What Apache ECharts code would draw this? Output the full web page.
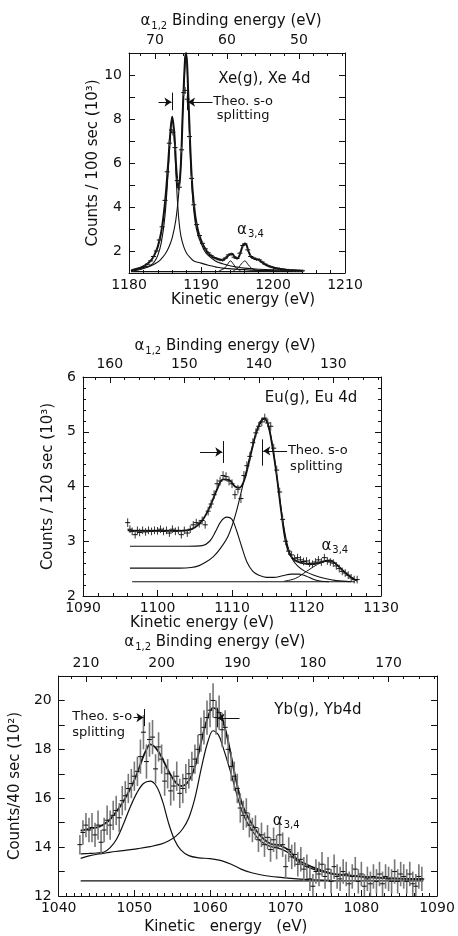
<!DOCTYPE html>
<html><head><meta charset="utf-8">
<script src="https://cdn.jsdelivr.net/npm/echarts@6/dist/echarts.min.js"></script>
<style>html,body{margin:0;padding:0;background:#fff}#c{width:458px;height:936px}</style>
</head><body><div id="c"></div>
<script>
// ---------------- DATA ----------------
const PHOTON = 1253.6; // binding = PHOTON - kinetic

// Xe 4d panel
const xeData = [[1180.6,1.12,0.05],[1181.0,1.15,0.05],[1181.4,1.2,0.05],[1181.8,1.25,0.05],[1182.2,1.3,0.06],[1182.6,1.4,0.06],[1183.0,1.55,0.06],[1183.4,1.75,0.07],[1183.8,2.0,0.07],[1184.2,2.5,0.08],[1184.6,3.1,0.09],[1185.0,4.3,0.1],[1185.3,5.6,0.12],[1185.6,6.9,0.14],[1185.9,7.5,0.15],[1186.1,7.4,0.15],[1186.4,6.7,0.14],[1186.7,5.2,0.12],[1187.0,4.9,0.12],[1187.3,6.6,0.14],[1187.6,9.2,0.16],[1187.8,9.3,0.16],[1188.1,8.9,0.16],[1188.4,7.2,0.14],[1188.7,5.3,0.12],[1189.0,4.1,0.1],[1189.4,3.2,0.09],[1189.8,2.7,0.08],[1190.2,2.35,0.08],[1190.6,2.1,0.07],[1191.0,1.92,0.07],[1191.4,1.8,0.07],[1191.8,1.7,0.07],[1192.2,1.65,0.07],[1192.6,1.6,0.07],[1193.0,1.58,0.07],[1193.4,1.68,0.07],[1193.8,1.82,0.07],[1194.2,1.85,0.07],[1194.6,1.72,0.07],[1195.0,1.66,0.07],[1195.4,1.9,0.07],[1195.8,2.25,0.08],[1196.1,2.32,0.08],[1196.5,2.05,0.07],[1196.9,1.75,0.07],[1197.3,1.68,0.07],[1197.7,1.62,0.07],[1198.1,1.6,0.07],[1198.5,1.5,0.06],[1198.9,1.4,0.06],[1199.3,1.33,0.06],[1199.7,1.28,0.06],[1200.1,1.25,0.05],[1200.5,1.22,0.05],[1200.9,1.2,0.05],[1201.3,1.18,0.05],[1201.7,1.15,0.05],[1202.1,1.14,0.05],[1202.5,1.13,0.05],[1202.9,1.12,0.05],[1203.3,1.11,0.05],[1203.7,1.11,0.05],[1204.1,1.1,0.05]];
const xeFit = [[1180.3,1.12],[1181,1.18],[1182,1.3],[1183,1.55],[1183.5,1.8],[1184,2.2],[1184.5,2.9],[1185,4.2],[1185.4,5.8],[1185.7,7.2],[1186.0,8.1],[1186.3,7.3],[1186.6,5.6],[1186.9,4.8],[1187.2,5.9],[1187.5,8.6],[1187.8,10.8],[1187.95,11.0],[1188.2,9.4],[1188.5,6.8],[1188.8,4.9],[1189.2,3.6],[1189.6,2.9],[1190,2.5],[1190.5,2.15],[1191,1.9],[1191.5,1.75],[1192,1.68],[1192.5,1.62],[1193,1.6],[1193.5,1.7],[1194,1.85],[1194.3,1.88],[1194.7,1.72],[1195.1,1.68],[1195.5,1.95],[1195.9,2.3],[1196.2,2.32],[1196.6,1.98],[1197.0,1.72],[1197.5,1.65],[1198,1.6],[1198.5,1.48],[1199,1.38],[1199.5,1.3],[1200,1.25],[1201,1.18],[1202,1.14],[1203,1.12],[1204.2,1.1]];
const xeCompA = [[1180.3,1.08],[1181,1.12],[1182,1.2],[1183,1.35],[1183.5,1.5],[1184,1.8],[1184.5,2.4],[1185,3.6],[1185.4,5.4],[1185.7,7.0],[1186.0,8.1],[1186.3,7.0],[1186.6,5.0],[1186.9,3.5],[1187.2,2.7],[1187.6,2.2],[1188,1.9],[1188.5,1.7],[1189,1.55],[1190,1.45],[1191,1.35],[1192,1.28],[1193,1.22],[1195,1.17],[1198,1.12],[1204.2,1.08]];
const xeCompB = [[1180.3,1.1],[1181,1.15],[1182,1.22],[1183,1.32],[1184,1.5],[1184.5,1.65],[1185,1.85],[1185.5,2.15],[1186,2.6],[1186.5,3.4],[1186.9,4.6],[1187.2,6.0],[1187.5,8.6],[1187.8,10.6],[1187.95,11.0],[1188.2,9.2],[1188.5,6.5],[1188.8,4.6],[1189.2,3.3],[1189.6,2.7],[1190,2.35],[1190.5,2.0],[1191,1.8],[1192,1.55],[1193,1.42],[1194,1.33],[1195,1.27],[1196,1.22],[1198,1.17],[1200,1.14],[1204.2,1.1]];
const xeSat1 = [[1192.5,1.1],[1193.2,1.2],[1193.7,1.4],[1194.1,1.55],[1194.5,1.4],[1195,1.2],[1195.5,1.1]];
const xeSat2 = [[1194.5,1.1],[1195.2,1.25],[1195.7,1.45],[1196.1,1.55],[1196.5,1.4],[1197,1.22],[1197.7,1.12],[1198.5,1.08]];
const xeBase = [[1180.3,1.06],[1204.2,1.06]];

// Eu 4d panel
const euData = [[1096.0,3.34,0.08],[1096.3,3.22,0.07],[1096.6,3.18,0.07],[1097.0,3.12,0.07],[1097.3,3.2,0.07],[1097.6,3.16,0.07],[1098.0,3.2,0.07],[1098.4,3.17,0.07],[1098.8,3.2,0.07],[1099.2,3.18,0.07],[1099.6,3.2,0.07],[1100.0,3.19,0.07],[1100.4,3.22,0.07],[1100.8,3.18,0.07],[1101.2,3.2,0.07],[1101.6,3.15,0.07],[1102.0,3.22,0.07],[1102.4,3.18,0.07],[1102.8,3.2,0.07],[1103.2,3.12,0.07],[1103.6,3.2,0.07],[1104.0,3.15,0.07],[1104.4,3.22,0.07],[1104.8,3.3,0.07],[1105.2,3.34,0.07],[1105.6,3.32,0.07],[1106.0,3.38,0.07],[1106.4,3.3,0.07],[1106.8,3.55,0.08],[1107.2,3.68,0.08],[1107.6,3.85,0.08],[1108.0,4.05,0.08],[1108.4,4.1,0.08],[1108.8,4.2,0.08],[1109.2,4.18,0.08],[1109.6,4.1,0.08],[1110.0,4.05,0.08],[1110.4,3.85,0.08],[1110.8,3.95,0.08],[1111.2,3.78,0.08],[1111.6,4.2,0.08],[1112.0,4.38,0.08],[1112.4,4.55,0.08],[1112.8,4.8,0.08],[1113.2,4.98,0.08],[1113.6,5.1,0.08],[1114.0,5.18,0.08],[1114.4,5.25,0.08],[1114.8,5.16,0.08],[1115.2,5.1,0.08],[1115.6,4.7,0.08],[1116.0,4.3,0.08],[1116.4,3.9,0.08],[1116.8,3.4,0.08],[1117.2,3.0,0.07],[1117.6,2.82,0.07],[1118.0,2.75,0.07],[1118.4,2.68,0.07],[1118.8,2.7,0.07],[1119.2,2.66,0.07],[1119.6,2.63,0.07],[1120.0,2.64,0.07],[1120.4,2.6,0.07],[1120.8,2.58,0.07],[1121.2,2.62,0.07],[1121.6,2.66,0.07],[1122.0,2.62,0.07],[1122.4,2.7,0.07],[1122.8,2.64,0.07],[1123.2,2.62,0.07],[1123.6,2.6,0.07],[1124.0,2.55,0.07],[1124.4,2.5,0.07],[1124.8,2.45,0.07],[1125.2,2.42,0.07],[1125.6,2.38,0.07],[1126.0,2.33,0.07],[1126.4,2.3,0.07],[1126.8,2.3,0.07]];
const euFit = [[1096.0,3.2],[1098,3.19],[1100,3.19],[1102,3.19],[1104,3.2],[1105,3.25],[1106,3.38],[1107,3.62],[1108,3.95],[1108.8,4.13],[1109.6,4.12],[1110.4,4.0],[1111.0,3.98],[1111.6,4.1],[1112.2,4.4],[1112.8,4.75],[1113.4,5.05],[1114.0,5.22],[1114.4,5.24],[1114.9,5.1],[1115.4,4.75],[1116.0,4.2],[1116.6,3.55],[1117.2,3.0],[1117.8,2.75],[1118.5,2.65],[1119.5,2.6],[1120.5,2.58],[1121.5,2.6],[1122.5,2.64],[1123.2,2.65],[1124,2.58],[1125,2.45],[1126,2.34],[1126.8,2.28]];
const euComp1 = [[1096.3,2.91],[1100,2.91],[1104,2.91],[1106,2.92],[1107,3.0],[1107.8,3.18],[1108.5,3.36],[1109.3,3.44],[1110.0,3.4],[1110.6,3.2],[1111.3,2.9],[1112.0,2.62],[1112.8,2.45],[1113.6,2.38],[1114.6,2.34],[1115.6,2.34],[1116.8,2.37],[1118,2.4],[1119,2.4],[1120,2.36],[1121,2.3],[1122,2.27],[1123,2.26]];
const euComp2 = [[1096.3,2.51],[1100,2.51],[1103,2.51],[1104.5,2.52],[1105.5,2.55],[1106.5,2.62],[1107.5,2.72],[1108.5,2.88],[1109.5,3.1],[1110.5,3.5],[1111.5,4.05],[1112.5,4.6],[1113.3,5.0],[1114.0,5.2],[1114.4,5.23],[1115.0,5.05],[1115.6,4.6],[1116.2,4.0],[1116.8,3.4],[1117.4,2.95],[1118,2.7],[1118.8,2.55],[1119.8,2.45],[1121,2.38],[1122.5,2.32],[1124,2.28],[1126,2.26]];
const euSat = [[1117.0,2.27],[1118.5,2.32],[1120,2.45],[1121.5,2.58],[1122.5,2.63],[1123.2,2.64],[1124,2.58],[1125,2.45],[1126,2.33],[1126.8,2.28]];
const euBase = [[1096.6,2.26],[1126.5,2.26]];

// Yb 4d panel
const ybData = [[1042.8,14.1,0.4],[1043.2,14.6,0.5],[1043.6,14.9,0.5],[1044.0,14.7,0.5],[1044.4,14.8,0.6],[1044.8,14.5,0.5],[1045.2,14.9,0.6],[1045.6,14.2,0.5],[1046.0,14.7,0.5],[1046.4,15.1,0.6],[1046.8,14.9,0.6],[1047.2,15.3,0.6],[1047.6,15.5,0.6],[1048.0,15.2,0.6],[1048.4,15.9,0.6],[1048.8,16.1,0.6],[1049.2,16.4,0.6],[1049.6,16.6,0.6],[1050.0,16.9,0.6],[1050.4,17.1,0.6],[1050.8,17.7,0.7],[1051.2,18.7,0.7],[1051.6,17.5,0.7],[1052.0,18.4,0.7],[1052.4,18.5,0.7],[1052.8,17.2,0.6],[1053.2,18.1,0.6],[1053.6,17.6,0.6],[1054.0,16.7,0.6],[1054.4,17.0,0.6],[1054.8,16.3,0.6],[1055.2,16.5,0.6],[1055.6,16.9,0.6],[1056.0,16.2,0.6],[1056.4,16.4,0.6],[1056.8,16.8,0.6],[1057.2,17.0,0.6],[1057.6,17.3,0.6],[1058.0,17.6,0.6],[1058.4,18.0,0.6],[1058.8,18.6,0.7],[1059.2,18.9,0.7],[1059.6,19.3,0.7],[1060.0,19.6,0.7],[1060.4,20.0,0.7],[1060.8,19.3,0.7],[1061.2,19.5,0.7],[1061.6,18.8,0.7],[1062.0,18.9,0.7],[1062.4,18.0,0.6],[1062.8,17.3,0.6],[1063.2,16.9,0.6],[1063.6,16.4,0.6],[1064.0,15.6,0.6],[1064.4,15.3,0.6],[1064.8,15.4,0.6],[1065.2,14.9,0.5],[1065.6,14.7,0.5],[1066.0,14.8,0.5],[1066.4,14.3,0.5],[1066.8,14.5,0.5],[1067.2,14.1,0.5],[1067.6,14.4,0.5],[1068.0,13.9,0.5],[1068.4,14.3,0.5],[1068.8,14.0,0.5],[1069.2,14.5,0.5],[1069.6,14.1,0.5],[1070.0,13.2,0.5],[1070.4,13.9,0.5],[1070.8,13.6,0.5],[1071.2,13.7,0.5],[1071.6,13.3,0.5],[1072.0,13.5,0.5],[1072.4,13.1,0.5],[1072.8,13.2,0.5],[1073.2,12.7,0.5],[1073.6,12.4,0.5],[1074.0,13.0,0.5],[1074.4,12.9,0.5],[1074.8,13.3,0.5],[1075.2,12.8,0.5],[1075.6,13.1,0.5],[1076.0,12.6,0.5],[1076.4,13.2,0.5],[1076.8,12.8,0.5],[1077.2,12.7,0.5],[1077.6,13.0,0.5],[1078.0,12.9,0.5],[1078.4,12.5,0.5],[1078.8,12.8,0.5],[1079.2,13.1,0.5],[1079.6,12.6,0.5],[1080.0,12.9,0.5],[1080.4,12.4,0.5],[1080.8,12.7,0.5],[1081.2,12.5,0.5],[1081.6,12.8,0.5],[1082.0,12.6,0.5],[1082.4,12.9,0.5],[1082.8,12.5,0.5],[1083.2,12.8,0.5],[1083.6,12.7,0.5],[1084.0,12.6,0.5],[1084.4,13.0,0.5],[1084.8,12.6,0.5],[1085.2,12.9,0.5],[1085.6,12.8,0.5],[1086.0,12.6,0.5],[1086.4,12.9,0.5],[1086.8,12.5,0.5],[1087.2,12.4,0.5],[1087.6,12.8,0.5],[1088.0,12.7,0.5]];
const ybFit = [[1042.9,14.67],[1044,14.75],[1045.3,14.83],[1046.5,15.05],[1047.5,15.4],[1048.6,15.9],[1049.7,16.54],[1050.4,17.05],[1051.0,17.56],[1051.6,18.0],[1052.1,18.2],[1052.7,18.1],[1053.4,17.8],[1054.2,17.3],[1054.9,16.9],[1055.6,16.6],[1056.2,16.5],[1056.9,16.6],[1057.6,16.95],[1058.3,17.6],[1058.9,18.4],[1059.6,19.2],[1060.4,19.7],[1061.0,19.6],[1061.5,19.34],[1062.2,18.6],[1062.8,17.7],[1063.4,16.8],[1064.1,15.9],[1064.8,15.35],[1065.5,14.97],[1066.3,14.6],[1067.2,14.3],[1068.1,14.12],[1069.0,14.09],[1069.6,14.02],[1070.3,13.9],[1071.0,13.68],[1071.6,13.47],[1072.7,13.3],[1073.8,13.15],[1075,13.02],[1076,12.93],[1078,12.85],[1080.3,12.79],[1082.5,12.75],[1084.7,12.72],[1086.5,12.7],[1088.2,12.69]];
const ybComp1 = [[1042.9,13.72],[1044,13.74],[1045,13.76],[1046,13.8],[1046.8,13.98],[1047.6,14.3],[1048.5,14.9],[1049.4,15.6],[1050.3,16.2],[1051.2,16.6],[1052.1,16.7],[1052.9,16.5],[1053.7,15.9],[1054.5,15.0],[1055.3,14.3],[1056.1,13.9],[1057.2,13.65],[1058.5,13.56],[1060,13.53],[1061.5,13.45],[1062.8,13.3],[1064.1,13.1],[1065.5,12.95],[1067,12.85],[1069,12.77],[1071.5,12.7],[1074,12.66],[1076,12.64]];
const ybComp2 = [[1042.9,13.54],[1044,13.64],[1045.3,13.72],[1046.2,13.76],[1047.5,13.82],[1049,13.88],[1050.5,13.94],[1052.1,14.02],[1053.5,14.12],[1054.5,14.25],[1055.5,14.45],[1056.4,14.75],[1057.2,15.2],[1058.0,16.0],[1058.9,17.3],[1059.7,18.3],[1060.4,18.76],[1061.1,18.6],[1061.7,18.1],[1062.6,17.2],[1063.5,16.2],[1064.3,15.4],[1065.3,14.8],[1066.5,14.3],[1067.6,14.07],[1068.6,13.98],[1069.4,13.92],[1070.3,13.78],[1071.6,13.4],[1072.8,13.2],[1073.8,13.08],[1075,12.98],[1076,12.9],[1078,12.83],[1080.3,12.77],[1083,12.72],[1086,12.69],[1088.2,12.67]];
const ybBase = [[1042.9,12.62],[1088.2,12.62]];

// tick labels of the binding-energy axes
const xeBindLabels = [50, 60, 70];
const euBindLabels = [130, 140, 150, 160];
const ybBindLabels = [170, 180, 190, 200, 210];

// ---------------- CHART ----------------
const FONT = '"DejaVu Sans", sans-serif';
const INK = '#111';
const RICH = {
  a: { fontSize: 15, fontFamily: FONT, color: INK },
  s: { fontSize: 10, fontFamily: FONT, color: INK, padding: [9, 0, 0, 1] }
};
function range(a, b, s) { const r = []; for (let v = a; v <= b + 1e-9; v += s) r.push(+v.toFixed(3)); return r; }

const panels = [
  { g: [129, 53, 216, 220], kx: [1180, 1210], y: [1, 11], yTitle: 'Counts / 100 sec (10³)', yGap: 24, xGap: 16, xPad: [0,0,0,12], tGap: 22, tPad: [0,12,0,0], binds: xeBindLabels, yMinor: 1, xMinor: 5, even: true },
  { g: [83, 377, 298, 219], kx: [1090, 1130], y: [2, 6], yTitle: 'Counts / 120 sec (10³)', yGap: 27, xGap: 20, xPad: [0,60,0,0], tGap: 19, tPad: [0,14,0,0], binds: euBindLabels, yMinor: 5, xMinor: 5, even: false },
  { g: [56, 676, 381, 220], kx: [1040, 1090], y: [12, 21], yTitle: 'Counts/40 sec (10²)', yGap: 26, xGap: 24, xPad: [0,44,0,0], tGap: 24, tPad: [0,66,0,0], binds: ybBindLabels, yMinor: 1, xMinor: 10, even: true }
];

const grids = [], xAxes = [], yAxes = [];
const lbl = { color: INK, fontSize: 14, fontFamily: FONT };
const axLine = { show: true, onZero: false, lineStyle: { color: INK, width: 1 } };
panels.forEach((p, i) => {
  grids.push({ left: p.g[0], top: p.g[1], width: p.g[2], height: p.g[3], containLabel: false });
  const bmin = +(PHOTON - p.kx[1]).toFixed(1), bmax = +(PHOTON - p.kx[0]).toFixed(1);
  // bottom kinetic axis
  xAxes.push({ type: 'value', gridIndex: i, position: 'bottom', min: p.kx[0], max: p.kx[1], interval: 10,
    axisLine: axLine, axisTick: { inside: true, length: 6, lineStyle: { color: INK } },
    minorTick: { show: true, splitNumber: p.xMinor, length: 3, lineStyle: { color: INK } },
    axisLabel: Object.assign({ margin: 5, formatter: v => String(v) }, lbl), splitLine: { show: false },
    name: i === 2 ? 'Kinetic   energy   (eV)' : 'Kinetic energy (eV)', nameLocation: 'middle', nameGap: p.xGap,
    nameTextStyle: { color: INK, fontSize: 15, fontFamily: FONT, padding: p.xPad } });
  // top binding axis (major + labels)
  xAxes.push({ type: 'value', gridIndex: i, position: 'top', inverse: true, min: bmin, max: bmax,
    axisLine: axLine, axisTick: { inside: true, length: 6, customValues: p.binds, lineStyle: { color: INK } },
    axisLabel: Object.assign({ margin: 6, customValues: p.binds, formatter: v => String(v) }, lbl), splitLine: { show: false },
    name: '{a|α}{s|1,2} Binding energy (eV)', nameLocation: 'middle', nameGap: p.tGap,
    nameTextStyle: { color: INK, fontSize: 15, fontFamily: FONT, padding: p.tPad, rich: RICH } });
  // top binding axis (minor ticks)
  xAxes.push({ type: 'value', gridIndex: i, position: 'top', inverse: true, min: bmin, max: bmax,
    axisLine: { show: false }, axisTick: { inside: true, length: 3, customValues: range(Math.ceil(bmin / 2) * 2, bmax, 2), lineStyle: { color: INK } },
    axisLabel: { show: false }, splitLine: { show: false } });
  // left y
  yAxes.push({ type: 'value', gridIndex: i, position: 'left', min: p.y[0], max: p.y[1], interval: 1,
    axisLine: axLine, axisTick: { inside: true, length: 6, lineStyle: { color: INK } },
    minorTick: { show: p.yMinor > 1, splitNumber: p.yMinor, length: 3, lineStyle: { color: INK } },
    axisLabel: Object.assign({ margin: 7, formatter: v => (p.even ? (v % 2 === 0 ? String(v) : '') : String(v)) }, lbl),
    splitLine: { show: false },
    name: p.yTitle, nameLocation: 'middle', nameGap: p.yGap, nameRotate: 90,
    nameTextStyle: { color: INK, fontSize: 15, fontFamily: FONT } });
  // right y
  yAxes.push({ type: 'value', gridIndex: i, position: 'right', min: p.y[0], max: p.y[1], interval: 1,
    axisLine: axLine, axisTick: { inside: true, length: 6, lineStyle: { color: INK } },
    minorTick: { show: p.yMinor > 1, splitNumber: p.yMinor, length: 3, lineStyle: { color: INK } },
    axisLabel: { show: false }, splitLine: { show: false } });
});

function curve(data, i, w, smooth) {
  return { type: 'line', xAxisIndex: i * 3, yAxisIndex: i * 2, data, showSymbol: false, symbol: 'none',
    smooth: smooth === undefined ? 0.35 : smooth, clip: true, silent: true, z: 3,
    lineStyle: { color: INK, width: w } };
}
function bars(data, i, color, w, hw) {
  return { type: 'custom', xAxisIndex: i * 3, yAxisIndex: i * 2, data, clip: true, silent: true, z: 4,
    encode: { x: 0, y: 1 },
    renderItem: (params, api) => {
      const x = api.value(0), y = api.value(1), e = api.value(2);
      const p = api.coord([x, y]), t = api.coord([x, y + e]), b = api.coord([x, y - e]);
      return { type: 'group', children: [
        { type: 'line', shape: { x1: p[0], y1: t[1], x2: p[0], y2: b[1] }, style: { stroke: color, lineWidth: w } },
        { type: 'line', shape: { x1: p[0] - hw, y1: p[1], x2: p[0] + hw, y2: p[1] }, style: { stroke: INK, lineWidth: 1 } }
      ] };
    } };
}
function note(coord, text, fs) {
  return { coord, symbol: 'circle', symbolSize: 0,
    label: { show: true, position: 'right', distance: 0, formatter: text, color: INK, fontSize: fs || 15, fontFamily: FONT, rich: RICH } };
}
function arrow(a, b) { return [{ coord: a, symbol: 'none' }, { coord: b, symbol: 'arrow' }]; }
function bar(a, b) { return [{ coord: a, symbol: 'none' }, { coord: b, symbol: 'none' }]; }
function base(data, i, notes, lines) {
  const s = curve(data, i, 1.2, false);
  s.markPoint = { silent: true, animation: false, data: notes };
  s.markLine = { silent: true, animation: false, symbolSize: 7, label: { show: false },
    lineStyle: { color: INK, width: 1, type: 'solid' }, emphasis: { disabled: true }, data: lines };
  return s;
}
const A = '{a|α}{s|3,4}';

const series = [
  // Xe
  curve(xeCompA, 0, 1.1), curve(xeCompB, 0, 1.1), curve(xeSat1, 0, 1), curve(xeSat2, 0, 1),
  base(xeBase, 0,
    [note([1192.4, 9.82], 'Xe(g), Xe 4d', 15), note([1191.7, 8.77], 'Theo. s-o', 13), note([1192.2, 8.14], 'splitting', 13), note([1195.0, 2.95], A)],
    [bar([1186.0, 8.4], [1186.0, 9.2]), arrow([1184.1, 8.77], [1185.9, 8.77]), bar([1188.1, 8.4], [1188.1, 9.2]), arrow([1191.6, 8.77], [1188.2, 8.77])]),
  bars(xeData, 0, '#444', 1.2, 2.5),
  curve(xeFit, 0, 2),
  // Eu
  curve(euComp1, 1, 1.1), curve(euComp2, 1, 1.1), curve(euSat, 1, 1),
  base(euBase, 1,
    [note([1114.4, 5.62], 'Eu(g), Eu 4d', 15), note([1117.5, 4.65], 'Theo. s-o', 13), note([1117.8, 4.37], 'splitting', 13), note([1122.0, 2.92], A)],
    [bar([1108.8, 4.43], [1108.8, 4.83]), arrow([1105.7, 4.63], [1108.7, 4.63]), bar([1114.0, 4.38], [1114.0, 4.86]), arrow([1117.4, 4.65], [1114.2, 4.65])]),
  bars(euData, 1, '#333', 1, 2.5),
  curve(euFit, 1, 1.8),
  // Yb
  curve(ybComp1, 2, 1.2), curve(ybComp2, 2, 1.2),
  base(ybBase, 2,
    [note([1068.5, 19.61], 'Yb(g), Yb4d', 15), note([1041.8, 19.32], 'Theo. s-o', 13), note([1041.8, 18.67], 'splitting', 13), note([1068.3, 15.07], A)],
    [arrow([1049.9, 19.3], [1051.2, 19.3]), bar([1051.3, 18.95], [1051.3, 19.65]), bar([1060.9, 18.9], [1060.9, 19.7]), arrow([1063.9, 19.28], [1061.0, 19.28])]),
  bars(ybData, 2, '#777', 1.6, 2.5),
  curve(ybFit, 2, 1.8)
];

const chart = echarts.init(document.getElementById('c'), null, { renderer: 'canvas' });
chart.setOption({ backgroundColor: '#fff', animation: false, grid: grids, xAxis: xAxes, yAxis: yAxes, series });
</script></body></html>
